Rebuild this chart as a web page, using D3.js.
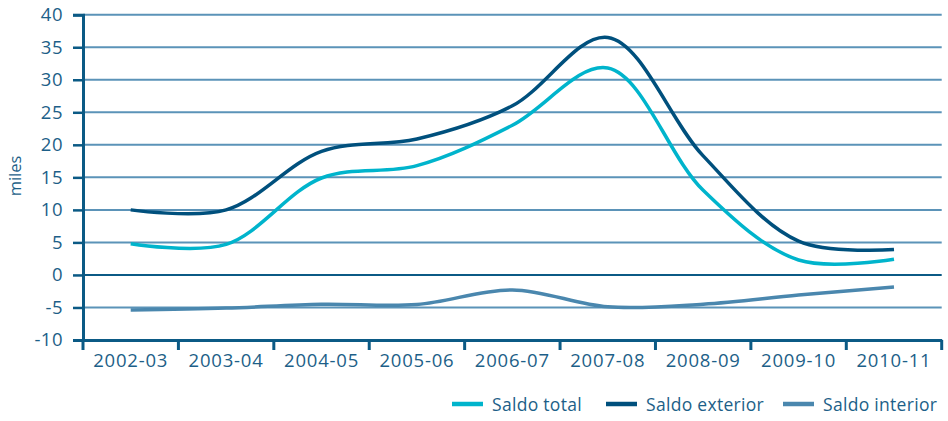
<!DOCTYPE html>
<html>
<head>
<meta charset="utf-8">
<script src="https://cdn.jsdelivr.net/npm/d3@7"></script>
<style>
  html, body { margin: 0; padding: 0; background: #fff; }
  svg { display: block; }
  text { font-family: "Open Sans", sans-serif; fill: #1d5f88; }
</style>
</head>
<body>
<svg id="chart" width="948" height="421"></svg>
<script>
const categories = ["2002-03","2003-04","2004-05","2005-06","2006-07","2007-08","2008-09","2009-10","2010-11"];
const saldoTotal    = [4.8, 4.7, 14.9, 16.8, 23.0, 31.8, 13.0, 2.3, 2.4];
const saldoExterior = [10.0, 10.0, 19.0, 20.9, 26.0, 36.5, 18.3, 5.2, 3.9];
const saldoInterior = [-5.4, -5.1, -4.5, -4.55, -2.3, -4.9, -4.5, -3.1, -1.85];
const yTicks = [-10, -5, 0, 5, 10, 15, 20, 25, 30, 35, 40];
const seriesNames = ["Saldo total", "Saldo exterior", "Saldo interior"];
const seriesColors = ["#00b4cc", "#00507d", "#4a87ae"];
const seriesData = [saldoTotal, saldoExterior, saldoInterior];

const svg = d3.select("#chart");
const mLeft = 83, mRight = 941.7, mTop = 14.7, mBottom = 340;

const x = d3.scaleBand().domain(categories).range([mLeft, mRight]).padding(0);
const y = d3.scaleLinear().domain([-10, 40]).range([mBottom, mTop]);

const axisDark = "#0b5a85";
const gridCol = "#5b93b8";

// gridlines
svg.append("g").selectAll("line").data(yTicks.filter(d => d !== -10 && d !== 0)).join("line")
  .attr("x1", mLeft).attr("x2", mRight)
  .attr("y1", d => y(d)).attr("y2", d => y(d))
  .attr("stroke", gridCol).attr("stroke-width", 2);

// zero line
svg.append("line").attr("x1", mLeft).attr("x2", mRight)
  .attr("y1", y(0)).attr("y2", y(0))
  .attr("stroke", axisDark).attr("stroke-width", 2);

// y axis
const yAxis = d3.axisLeft(y).tickValues(yTicks).tickSize(10).tickPadding(10).tickFormat(d => String(d));
const gy = svg.append("g").attr("transform", `translate(${mLeft},0)`).call(yAxis);
gy.select(".domain").attr("stroke", axisDark).attr("stroke-width", 3);
gy.selectAll(".tick line").attr("stroke", axisDark).attr("stroke-width", 2.5);
gy.selectAll(".tick text").attr("font-size", 18.5).attr("font-family", "Open Sans")
  .attr("fill", "#1d5f88").attr("letter-spacing", 0.5);

// x axis
const xAxis = d3.axisBottom(x).tickSize(0).tickPadding(14);
const gx = svg.append("g").attr("transform", `translate(0,${mBottom})`).call(xAxis);
gx.select(".domain").attr("stroke", axisDark).attr("stroke-width", 3);
gx.selectAll(".tick text").attr("font-size", 18.5).attr("font-family", "Open Sans")
  .attr("fill", "#1d5f88").attr("letter-spacing", 0.8);
// band boundary ticks
const bounds = categories.map(c => x(c)).concat([x(categories[categories.length - 1]) + x.bandwidth()]);
svg.append("g").selectAll("line").data(bounds).join("line")
  .attr("x1", d => d).attr("x2", d => d)
  .attr("y1", mBottom).attr("y2", mBottom + 10)
  .attr("stroke", axisDark).attr("stroke-width", 3);

// y label
svg.append("text").attr("transform", "translate(21,176) rotate(-90)")
  .attr("text-anchor", "middle").attr("font-size", 16.5).text("miles");

// lines
const line = d3.line()
  .x((d, i) => x(categories[i]) + x.bandwidth() / 2)
  .y(d => y(d))
  .curve(d3.curveCatmullRom.alpha(0.5));

// draw order: interior, total, exterior
[2, 0, 1].forEach(k => {
  svg.append("path").datum(seriesData[k])
    .attr("d", line)
    .attr("fill", "none")
    .attr("stroke", seriesColors[k])
    .attr("stroke-width", 3.5)
    .attr("stroke-linejoin", "round");
});

// legend
const legendX = [452, 606, 783];
const lg = svg.append("g");
seriesNames.forEach((n, i) => {
  lg.append("line").attr("x1", legendX[i]).attr("x2", legendX[i] + 31)
    .attr("y1", 404).attr("y2", 404)
    .attr("stroke", seriesColors[i]).attr("stroke-width", 4.5);
  lg.append("text").attr("x", legendX[i] + 40).attr("y", 411)
    .attr("font-size", 17.5).attr("letter-spacing", 0.3).text(n);
});
</script>
</body>
</html>
